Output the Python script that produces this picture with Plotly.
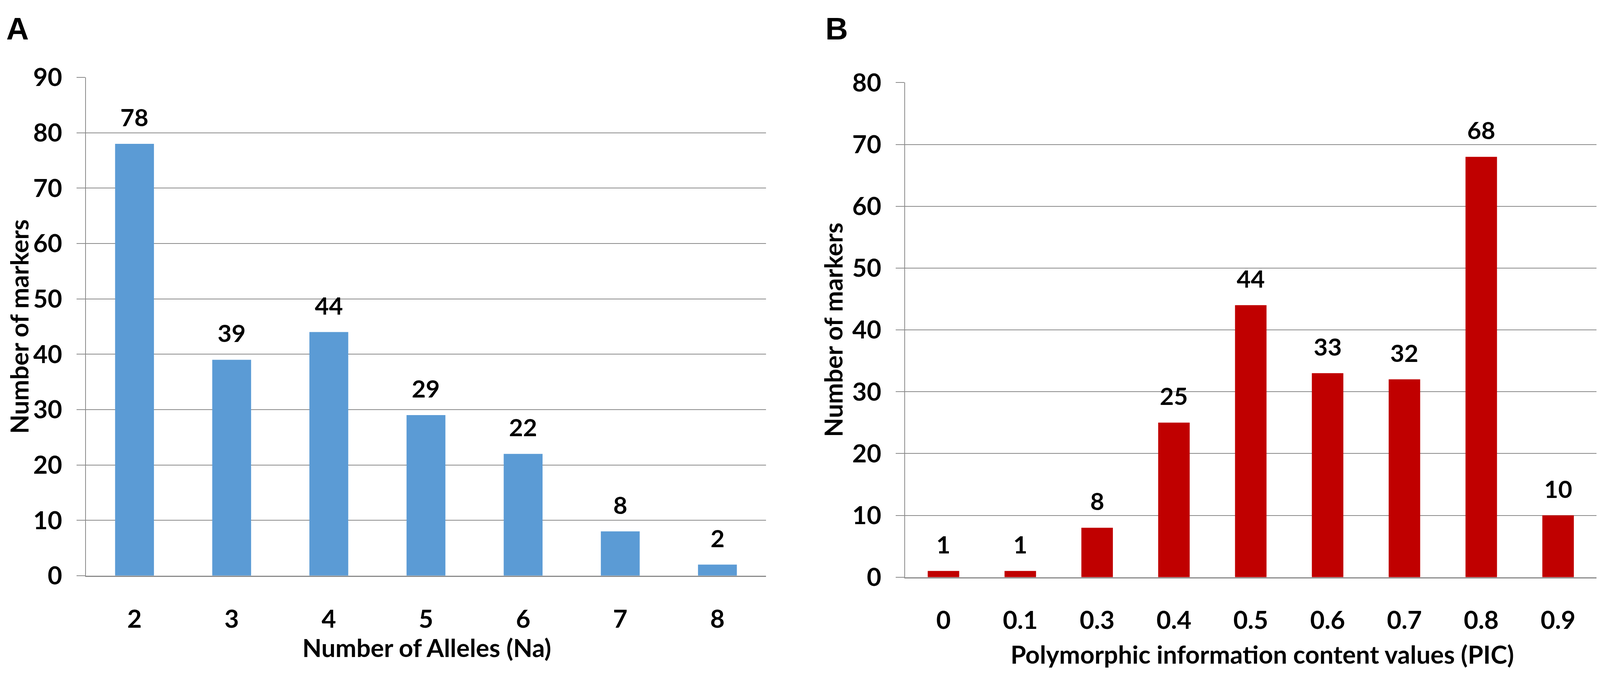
import plotly.graph_objects as go

# panel A: number of alleles per marker
alleles = ["2", "3", "4", "5", "6", "7", "8"]
markers_a = [78, 39, 44, 29, 22, 8, 2]

# panel B: PIC value classes
pic_values = ["0", "0.1", "0.3", "0.4", "0.5", "0.6", "0.7", "0.8", "0.9"]
markers_b = [1, 1, 8, 25, 44, 33, 32, 68, 10]

# reference canvas, used only to turn pixel positions into paper fractions
# (the page body keeps its default 8px margin around the plot div)
W, H = 4211, 1750
PAD = 8
FONT = "Lato"
GRID = "#8a8a8a"


def px_x(v):
    return min(1, max(0, (v - PAD) / (W - 2 * PAD)))


def px_y(v):
    return min(1, max(0, 1 - (v - PAD) / (H - 2 * PAD)))


fig = go.Figure()

fig.add_trace(go.Bar(
    x=alleles, y=markers_a,
    marker=dict(color="#5b9bd5", line=dict(width=0)),
    width=0.4,
    xaxis="x", yaxis="y",
    showlegend=False,
))

fig.add_trace(go.Bar(
    x=pic_values, y=markers_b,
    marker=dict(color="#c00000", line=dict(width=0)),
    width=0.41,
    xaxis="x2", yaxis="y2",
    showlegend=False,
))

tick_font = dict(family=FONT, size=64, color="black", weight="bold")

xcommon = dict(
    type="category",
    showgrid=False,
    showline=True,
    linecolor=GRID,
    linewidth=3,
    ticks="",
    tickfont=tick_font,
    ticklabelstandoff=53,
    zeroline=False,
)
ycommon = dict(
    showgrid=True,
    gridcolor=GRID,
    gridwidth=2,
    showline=True,
    linecolor=GRID,
    linewidth=2,
    ticks="outside",
    ticklen=22,
    tickwidth=2,
    tickcolor=GRID,
    tickfont=tick_font,
    ticklabelstandoff=24,
    dtick=10,
    zeroline=False,
)

# no fixed width/height: the figure fills the browser window
fig.update_layout(
    autosize=True,
    margin=dict(l=0, r=0, t=0, b=0),
    paper_bgcolor="white",
    plot_bgcolor="white",
    xaxis=dict(domain=[px_x(226), px_x(2016)], anchor="y",
               range=[-0.5, len(alleles) - 0.5], **xcommon),
    yaxis=dict(domain=[px_y(1498), px_y(164)], range=[0, 90], anchor="x", **ycommon),
    xaxis2=dict(domain=[px_x(2382), px_x(4202)], anchor="y2",
                range=[-0.5, len(pic_values) - 0.5], **xcommon),
    yaxis2=dict(domain=[px_y(1502), px_y(178)], range=[0, 80], anchor="x2", **ycommon),
)

label_font = dict(family=FONT, size=62, color="black", weight="bold")

# value labels above bars (category index on the x axis)
for i, v in enumerate(markers_a):
    fig.add_annotation(x=i, y=v, xref="x", yref="y", text=str(v),
                       showarrow=False, yanchor="bottom", yshift=30, font=label_font)

for i, v in enumerate(markers_b):
    fig.add_annotation(x=i, y=v, xref="x2", yref="y2", text=str(v),
                       showarrow=False, yanchor="bottom", yshift=30, font=label_font)

title_font = dict(family=FONT, size=64, color="black", weight="bold")

# axis titles
fig.add_annotation(x=px_x(1123), y=px_y(1690), xref="paper", yref="paper",
                   text="Number of Alleles (Na)", showarrow=False,
                   xanchor="center", yanchor="middle", font=title_font)
fig.add_annotation(x=px_x(3322), y=px_y(1708), xref="paper", yref="paper",
                   text="Polymorphic information content values (PIC)", showarrow=False,
                   xanchor="center", yanchor="middle", font=title_font)
fig.add_annotation(x=0, y=px_y(831), xref="paper", yref="paper",
                   text="Number of markers", textangle=-90, showarrow=False,
                   xanchor="left", yanchor="middle", font=title_font)
fig.add_annotation(x=px_x(2192), y=px_y(840), xref="paper", yref="paper",
                   text="Number of markers", textangle=-90, showarrow=False,
                   xanchor="center", yanchor="middle", font=title_font)

# panel letters
letter_font = dict(family="Liberation Sans", size=80, color="black", weight="bold")
fig.add_annotation(x=px_x(14), y=px_y(34), xref="paper", yref="paper",
                   text="A", showarrow=False, xanchor="left", yanchor="middle",
                   font=letter_font)
fig.add_annotation(x=px_x(2170), y=px_y(34), xref="paper", yref="paper",
                   text="B", showarrow=False, xanchor="left", yanchor="middle",
                   font=letter_font)

fig.write_html("out.html")
